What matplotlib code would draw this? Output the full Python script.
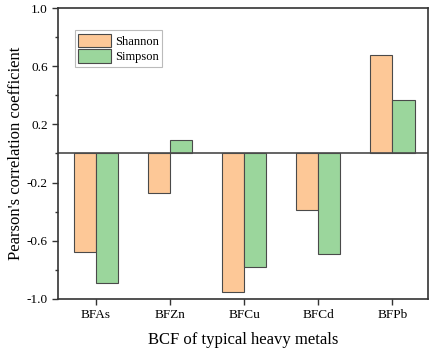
import numpy as np
import matplotlib.pyplot as plt
from matplotlib.ticker import MultipleLocator

plt.rcParams['font.family'] = ['Liberation Serif', 'DejaVu Serif']

metals = ['BFAs', 'BFZn', 'BFCu', 'BFCd', 'BFPb']
shannon = [-0.68, -0.27, -0.95, -0.39, 0.68]
simpson = [-0.89, 0.09, -0.78, -0.69, 0.37]

fig = plt.figure(figsize=(4.3, 3.48), dpi=100)
ax = fig.add_axes([0.135, 0.141, 0.86, 0.836])

x = np.arange(len(metals))
w = 0.3
ax.bar(x - w / 2, shannon, w, color='#FDC897', edgecolor='#4a4a4a', linewidth=0.8, label='Shannon')
ax.bar(x + w / 2, simpson, w, color='#9BD69C', edgecolor='#4a4a4a', linewidth=0.8, label='Simpson')
ax.axhline(0, color='#4a4a4a', linewidth=1.2)

ax.set_xlim(-0.51, 4.48)
ax.set_ylim(-1.0, 1.0)
ax.set_xticks(x)
ax.set_xticklabels(metals)
ax.set_yticks([-1.0, -0.6, -0.2, 0.2, 0.6, 1.0])
ax.set_yticklabels(['-1.0', '-0.6', '-0.2', '0.2', '0.6', '1.0'])
ax.set_yticks([-0.8, -0.4, 0.0, 0.4, 0.8], minor=True)
ax.tick_params(axis='both', which='major', direction='out', length=4, width=1, labelsize=9.5, color='#333333')
ax.tick_params(axis='y', which='minor', direction='out', length=2.5, width=1, color='#333333')
for s in ax.spines.values():
    s.set_color('#333333')
    s.set_linewidth(1.2)

ax.set_xlabel('BCF of typical heavy metals', fontsize=12, labelpad=8)
ax.set_ylabel("Pearson's correlation coefficient", fontsize=12, labelpad=2)

leg = ax.legend(loc='upper left', bbox_to_anchor=(0.045, 0.925), fontsize=9, frameon=True, fancybox=False,
                edgecolor='#aaaaaa', handlelength=2.6, handleheight=1.3, handletextpad=0.3,
                borderpad=0.3, labelspacing=0.15, borderaxespad=0)
leg.get_frame().set_linewidth(0.8)

fig.savefig('out.png', dpi=100)
